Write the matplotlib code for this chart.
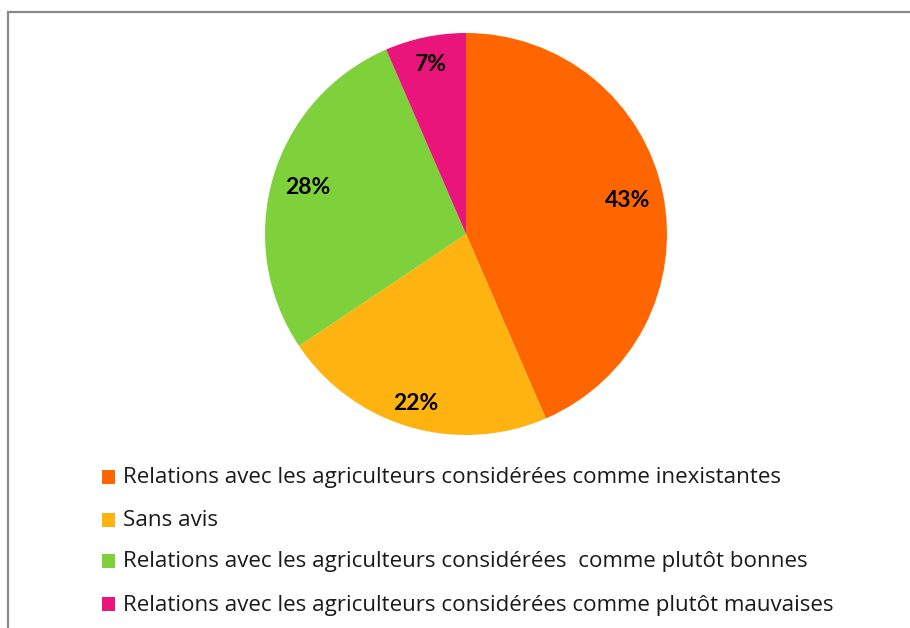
import numpy as np
import matplotlib
matplotlib.use("Agg")
import matplotlib.pyplot as plt
from matplotlib.patches import Rectangle

labels = [
    "Relations avec les agriculteurs considérées comme inexistantes",
    "Sans avis",
    "Relations avec les agriculteurs considérées  comme plutôt bonnes",
    "Relations avec les agriculteurs considérées comme plutôt mauvaises",
]
# slice sizes, shown labels as printed on the chart
shares = [43.5, 22.1, 27.9, 6.5]
pct_labels = ["43%", "22%", "28%", "7%"]
colors = ["#FF6600", "#FFB310", "#7FD13B", "#EA157A"]
label_dist = [0.82, 0.88, 0.82, 0.86]

W, H = 910, 628
fig = plt.figure(figsize=(W / 100, H / 100), dpi=100)
fig.patch.set_facecolor("white")

# outer chart frame (cut at right/bottom like the screenshot)
fig.patches.append(Rectangle((8 / W, -0.05), 1.2, 1 - 12 / H + 0.05,
                             transform=fig.transFigure, fill=False,
                             edgecolor="#898989", linewidth=1.6))

# pie
cx, cy, r = 466, 234, 201
ax = fig.add_axes([(cx - r) / W, (H - cy - r) / H, 2 * r / W, 2 * r / H])
wedges, _ = ax.pie(shares, colors=colors, startangle=90, counterclock=False,
                   wedgeprops=dict(linewidth=0))
ax.set_aspect("equal")
ax.set_xlim(-1, 1)
ax.set_ylim(-1, 1)

for w, txt, d in zip(wedges, pct_labels, label_dist):
    ang = np.deg2rad((w.theta1 + w.theta2) / 2)
    ax.text(d * np.cos(ang), d * np.sin(ang), txt, ha="center", va="center",
            fontsize=16.5, fontweight="bold", family="Lato", color="black")

# legend
rows_y = [477, 520, 561, 604]
for lab, col, yy in zip(labels, colors, rows_y):
    fig.patches.append(Rectangle((102 / W, (H - yy - 7) / H), 13 / W, 14 / H,
                                 transform=fig.transFigure, facecolor=col,
                                 edgecolor="none"))
    fig.text(123 / W, (H - yy - 1) / H, lab, fontsize=16.1, family="Open Sans",
             color="#1a1a1a", va="center", ha="left")

fig.savefig("out.png", dpi=100)
